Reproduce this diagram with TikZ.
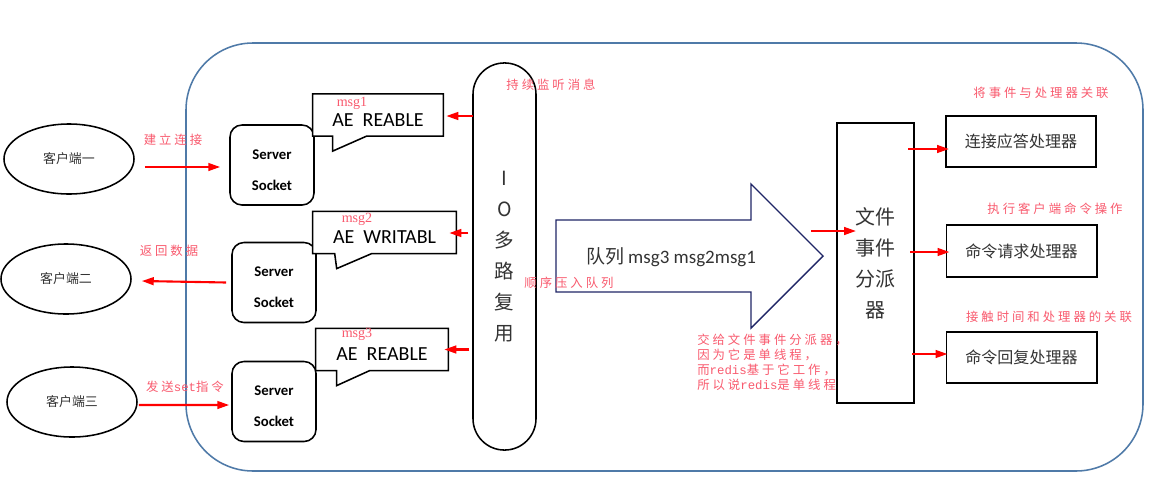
\documentclass[tikz,border=0pt]{standalone}
\usepackage{fontspec}
\usepackage{xcolor}
\usepackage{tikz}
\usetikzlibrary{calc,shapes.geometric,arrows.meta}
\newfontfamily\cjk{Noto Sans CJK SC}
\newfontfamily\cjksp[LetterSpace=24]{Noto Sans CJK SC}
\newfontfamily\carl{Carlito}
\newfontfamily\tms{Liberation Serif}
\newfontfamily\cour{Liberation Mono}
\definecolor{ink}{HTML}{333333}
\definecolor{frameblue}{HTML}{4F7AA8}
\definecolor{note}{HTML}{F95A6E}
\definecolor{hot}{HTML}{FF0000}
\definecolor{navy}{HTML}{1F2566}
\tikzset{
  outer/.style={draw=frameblue, line width=1.1pt, rounded corners=1.675cm},
  client/.style={ellipse, draw, line width=1.1pt, minimum width=3.25cm, minimum height=1.75cm,
    inner sep=0pt, text=ink, font=\cjk\fontsize{9.2}{11}\selectfont},
  sock/.style={draw, line width=1.1pt, rounded corners=0.3cm, minimum width=2.1cm, minimum height=2cm},
  socktext/.style={align=center, font=\carl\bfseries\fontsize{10.5}{22.3}\selectfont},
  callbox/.style={inner sep=0pt, minimum height=1.04cm},
  callline/.style={draw, line width=1.1pt, fill=white},
  aetext/.style={font=\carl\fontsize{14.2}{16}\selectfont},
  msglab/.style={text=note, font=\tms\fontsize{10}{12}\selectfont},
  iopill/.style={draw, line width=1.1pt, rounded corners=0.785cm, minimum width=1.575cm, minimum height=9.675cm,
    align=center, text=ink, font=\cjk\fontsize{13.9}{22}\selectfont},
  bigarrow/.style={draw=navy, line width=1pt, fill=white},
  qtext/.style={text=ink, font=\cjk\fontsize{13.5}{16}\selectfont},
  disp/.style={draw, line width=1.4pt, minimum width=1.925cm, minimum height=7cm,
    align=center, text=ink, font=\cjk\fontsize{14.2}{22}\selectfont},
  handler/.style={draw, line width=1.4pt, minimum width=3.75cm, minimum height=1.28cm,
    text=ink, font=\cjk\fontsize{11.4}{13}\selectfont},
  redarr/.style={draw=hot, line width=1.5pt, -{Triangle[length=8.5pt,width=5.5pt]}},
  lab/.style={text=note, inner sep=0pt, font=\cjksp\fontsize{8.8}{10.7}\selectfont}
}

\begin{document}
\begin{tikzpicture}[x=0.025cm, y=-0.025cm]
  \fill[white] (0,0) rectangle (1166,481);
  \useasboundingbox (0,0) rectangle (1166,481);

  \draw[outer] (186,43) rectangle (1143,471);

  % clients and sockets
  \node[client] (c1) at (69,159) {客户端一};
  \node[client] (c2) at (66,279) {客户端二};
  \node[client] (c3) at (72,402) {客户端三};

  \node[sock] (s1) at (272,165) {};
  \node[sock] (s2) at (274,282.5) {};
  \node[sock] (s3) at (274,401.5) {};
  \node[socktext] (st1) at ($(s1)+(0,5)$) {Server\\Socket};
  \node[socktext] (st2) at ($(s2)+(0,5)$) {Server\\Socket};
  \node[socktext] (st3) at ($(s3)+(0,4.5)$) {Server\\Socket};

  % event callouts
  \node[callbox, minimum width=3.25cm] (ae1) at (378,115) {};
  \node[callbox, minimum width=3.575cm] (ae2) at (384.5,232.5) {};
  \node[callbox, minimum width=3.3cm] (ae3) at (382,349.5) {};
  \draw[callline] (ae1.north west) -- (ae1.north east) -- (ae1.south east) -- ($(ae1.south west)+(54,0)$)
    -- ($(ae1.south west)+(20,15)$) -- ($(ae1.south west)+(20,0)$) -- (ae1.south west) -- cycle;
  \draw[callline] (ae2.north west) -- (ae2.north east) -- (ae2.south east) -- ($(ae2.south west)+(59,0)$)
    -- ($(ae2.south west)+(24,15)$) -- ($(ae2.south west)+(22,0)$) -- (ae2.south west) -- cycle;
  \draw[callline] (ae3.north west) -- (ae3.north east) -- (ae3.south east) -- ($(ae3.south west)+(54,0)$)
    -- ($(ae3.south west)+(21,15)$) -- ($(ae3.south west)+(21,0)$) -- (ae3.south west) -- cycle;
  \node[aetext] (t1) at ($(ae1)+(0,5)$) {AE\ \ REABLE};
  \node[aetext] (t2) at ($(ae2)+(0,4.5)$) {AE\ \ WRITABL};
  \node[aetext] (t3) at ($(ae3)+(0,4.5)$) {AE\ \ REABLE};
  \node[msglab] (m1) at (352,103) {msg1};
  \node[msglab] (m2) at (357,219) {msg2};
  \node[msglab] (m3) at (357,334) {msg3};

  \node[iopill] (io) at (504.5,256.5) {I\\O\\多\\路\\复\\用};

  % queue arrow
  \draw[bigarrow] (556,220) -- (751,220) -- (751,184) -- (823,256) -- (751,328) -- (751,292) -- (556,292) -- cycle;
  \node[qtext] (queue) at (671,257) {队列 {\carl msg3 msg2msg1}};

  \node[disp] (fd) at (875.5,263) {文件\\事件\\分派\\器};
  \node[handler] (h1) at (1021,141.5) {连接应答处理器};
  \node[handler] (h2) at (1021.5,251) {命令请求处理器};
  \node[handler] (h3) at (1021.5,357.5) {命令回复处理器};

  % red connectors
  \draw[redarr] ($(c1.east |- s1.west)+(10,2)$) -- ($(s1.west)+(-9,2)$);
  \draw[redarr] ($(s2.west)+(-5,0)$) -- ($(c2.east)+(10,2)$);
  \draw[redarr] ($(c3.east)+(1,3)$) -- ($(s3.west)+(-2,3.5)$);
  \draw[redarr] ($(io.west |- ae1.east)+(1,1)$) -- ($(ae1.east)+(3,1)$);
  \draw[redarr] ($(ae2.east)+(12,0.5)$) -- ($(ae2.east)+(-7,0.5)$);
  \draw[redarr] ($(ae3.east)+(21,0)$) -- ($(ae3.east)+(-4,0)$);
  \draw[redarr] ($(fd.west)+(-25,-32)$) -- ($(fd.west)+(20,-32)$);
  \draw[redarr] ($(fd.east |- h1.west)+(-7,7.5)$) -- ($(h1.west)+(4,7.5)$);
  \draw[redarr] ($(fd.east |- h2.west)+(-5,1)$) -- ($(h2.west)+(4,1)$);
  \draw[redarr] ($(fd.east |- h3.west)+(-3,-3.5)$) -- ($(h3.west)+(2,-3.5)$);

  % notes
  \node[lab] (l1) at (173,140) {建立连接};
  \node[lab] (l2) at (169,251) {返回数据};
  \node[lab] (l3) at (185,387) {发送{\cour set}指令};
  \node[lab] (l4) at (551,85) {持续监听消息};
  \node[lab] (l5) at (569,283) {顺序压入队列};
  \node[lab] (l6) at (1041,93) {将事件与处理器关联};
  \node[lab] (l7) at (1055,209) {执行客户端命令操作};
  \node[lab] (l8) at (1049,317) {接触时间和处理器的关联};
  \node[lab, anchor=west, align=left] (l9) at (697,362.5)
    {交给文件事件分派器，\\因为它是单线程，\\而{\cour redis}基于它工作，\\所以说{\cour redis}是单线程};
\end{tikzpicture}
\end{document}
